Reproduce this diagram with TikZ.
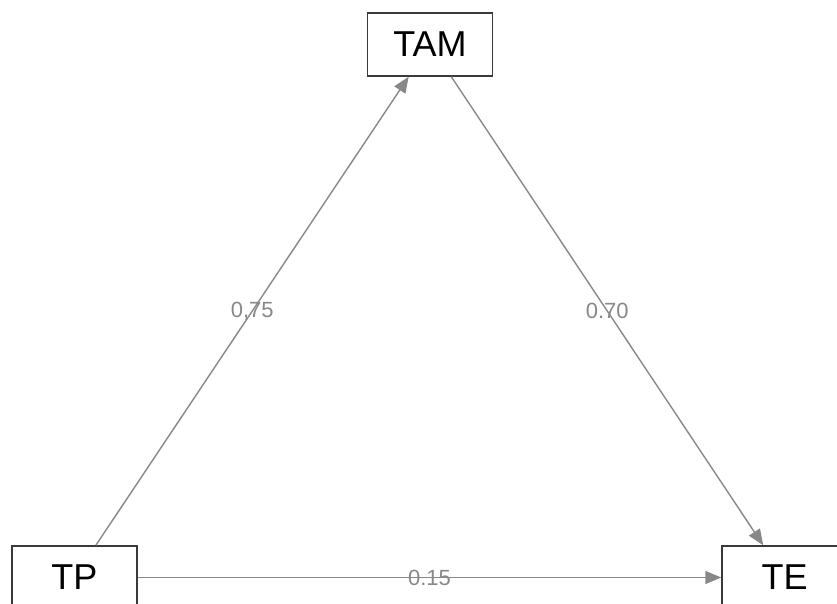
\documentclass[tikz,border=0pt]{standalone}
\usepackage{fontspec}
\setmainfont{Liberation Sans}
\usepackage{tikz}
\usetikzlibrary{arrows.meta}
\definecolor{boxline}{HTML}{3A3A3A}
\definecolor{edge}{HTML}{888888}
\definecolor{coeftext}{HTML}{888888}
\tikzset{
  var/.style  = {rectangle, draw=boxline, line width=1.4pt, fill=white,
                 minimum width=125pt, minimum height=63pt, inner sep=0pt,
                 font=\fontsize{36}{36}\selectfont},
  ar/.style   = {-{Triangle[length=16pt,width=13pt]}, line width=1.4pt, draw=edge},
  coef/.style = {font=\fontsize{22}{22}\selectfont\color{coeftext}, inner sep=0pt},
}
\begin{document}
\begin{tikzpicture}[x=1pt, y=-1pt]
  \useasboundingbox (0,0) rectangle (837,604);
  \clip (0,0) rectangle (837,604);

  \node[var] (TAM) at (430,44.5)  {TAM};
  \node[var] (TP)  at (74.5,577.5) {TP};
  \node[var] (TE)  at (784.5,577.5) {TE};

  \draw[ar] (TP)  -- (TAM) node[coef, midway] {0,75};
  \draw[ar] (TAM) -- (TE)  node[coef, midway] {0.70};
  \draw[ar] (TP)  -- (TE)  node[coef, midway] {0.15};
\end{tikzpicture}
\end{document}
